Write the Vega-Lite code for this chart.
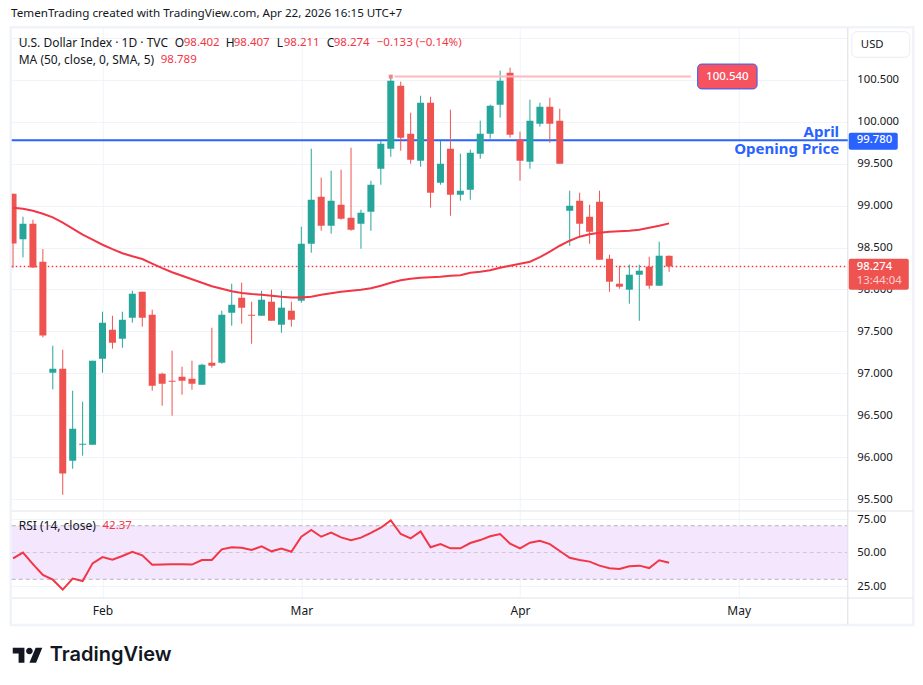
{"$schema":"https://vega.github.io/schema/vega-lite/v6.json","background":"white","padding":{"left":8.75,"top":8,"right":0,"bottom":0},"bounds":"flush","spacing":0,"title":{"text":"TemenTrading created with TradingView.com, Apr 22, 2026 16:15 UTC+7","anchor":"start","frame":"bounds","fontSize":11.65,"fontWeight":"normal","color":"#131722","font":"Noto Sans","offset":6,"dx":2},"config":{"font":"Noto Sans","view":{"stroke":null},"axis":{"grid":true,"gridColor":"#f0f3fa","gridWidth":1,"domain":false,"ticks":false,"title":null,"labelColor":"#131722","labelFontSize":11.3,"labelFont":"Noto Sans"}},
"datasets":{"bars":[
{"date":"2026-01-20","bar":0,"o":99.143,"h":99.143,"l":98.26,"c":98.55,"ma":98.976,"rsi":45.6},
{"date":"2026-01-21","bar":1,"o":98.598,"h":98.868,"l":98.383,"c":98.785,"ma":98.964,"rsi":49.9},
{"date":"2026-01-22","bar":2,"o":98.785,"h":98.833,"l":98.26,"c":98.263,"ma":98.94,"rsi":41.4},
{"date":"2026-01-23","bar":3,"o":98.331,"h":98.483,"l":97.428,"c":97.452,"ma":98.904,"rsi":33.2},
{"date":"2026-01-26","bar":4,"o":97.007,"h":97.329,"l":96.808,"c":97.055,"ma":98.86,"rsi":29.7},
{"date":"2026-01-27","bar":5,"o":97.055,"h":97.281,"l":95.551,"c":95.805,"ma":98.797,"rsi":22.3},
{"date":"2026-01-28","bar":6,"o":95.957,"h":96.792,"l":95.861,"c":96.339,"ma":98.725,"rsi":30.5},
{"date":"2026-01-29","bar":7,"o":96.148,"h":96.661,"l":96.017,"c":96.16,"ma":98.654,"rsi":28.7},
{"date":"2026-01-30","bar":8,"o":96.148,"h":97.15,"l":96.148,"c":97.15,"ma":98.594,"rsi":41.9},
{"date":"2026-02-02","bar":9,"o":97.174,"h":97.735,"l":97.007,"c":97.604,"ma":98.534,"rsi":46.6},
{"date":"2026-02-03","bar":10,"o":97.52,"h":97.687,"l":97.293,"c":97.365,"ma":98.481,"rsi":44.7},
{"date":"2026-02-04","bar":11,"o":97.413,"h":97.735,"l":97.305,"c":97.639,"ma":98.433,"rsi":47.4},
{"date":"2026-02-05","bar":12,"o":97.663,"h":97.985,"l":97.604,"c":97.95,"ma":98.397,"rsi":50.6},
{"date":"2026-02-06","bar":13,"o":97.973,"h":97.973,"l":97.556,"c":97.663,"ma":98.364,"rsi":47.9},
{"date":"2026-02-09","bar":14,"o":97.699,"h":97.759,"l":96.792,"c":96.852,"ma":98.308,"rsi":40.9},
{"date":"2026-02-10","bar":15,"o":96.995,"h":97.007,"l":96.613,"c":96.876,"ma":98.254,"rsi":41.0},
{"date":"2026-02-11","bar":16,"o":96.911,"h":97.27,"l":96.494,"c":96.899,"ma":98.206,"rsi":41.2},
{"date":"2026-02-12","bar":17,"o":96.959,"h":97.078,"l":96.744,"c":96.911,"ma":98.164,"rsi":41.2},
{"date":"2026-02-13","bar":18,"o":96.935,"h":97.15,"l":96.804,"c":96.876,"ma":98.123,"rsi":41.0},
{"date":"2026-02-16","bar":19,"o":96.864,"h":97.114,"l":96.864,"c":97.102,"ma":98.081,"rsi":44.4},
{"date":"2026-02-17","bar":20,"o":97.126,"h":97.544,"l":97.067,"c":97.09,"ma":98.039,"rsi":44.4},
{"date":"2026-02-18","bar":21,"o":97.126,"h":97.747,"l":97.114,"c":97.699,"ma":98.009,"rsi":52.4},
{"date":"2026-02-19","bar":22,"o":97.723,"h":98.069,"l":97.568,"c":97.818,"ma":97.98,"rsi":53.9},
{"date":"2026-02-20","bar":23,"o":97.902,"h":98.081,"l":97.592,"c":97.783,"ma":97.958,"rsi":53.6},
{"date":"2026-02-23","bar":24,"o":97.699,"h":97.854,"l":97.353,"c":97.687,"ma":97.946,"rsi":51.9},
{"date":"2026-02-24","bar":25,"o":97.687,"h":97.985,"l":97.687,"c":97.878,"ma":97.938,"rsi":54.6},
{"date":"2026-02-25","bar":26,"o":97.854,"h":97.997,"l":97.627,"c":97.627,"ma":97.926,"rsi":50.9},
{"date":"2026-02-26","bar":27,"o":97.58,"h":97.985,"l":97.484,"c":97.783,"ma":97.914,"rsi":52.9},
{"date":"2026-02-27","bar":28,"o":97.747,"h":97.854,"l":97.556,"c":97.639,"ma":97.905,"rsi":50.6},
{"date":"2026-03-02","bar":29,"o":97.866,"h":98.749,"l":97.842,"c":98.546,"ma":97.904,"rsi":61.8},
{"date":"2026-03-03","bar":30,"o":98.546,"h":99.68,"l":98.439,"c":99.071,"ma":97.914,"rsi":66.8},
{"date":"2026-03-04","bar":31,"o":99.107,"h":99.334,"l":98.701,"c":98.761,"ma":97.938,"rsi":61.8},
{"date":"2026-03-05","bar":32,"o":98.761,"h":99.417,"l":98.666,"c":99.06,"ma":97.956,"rsi":64.8},
{"date":"2026-03-06","bar":33,"o":99.012,"h":99.429,"l":98.833,"c":98.845,"ma":97.973,"rsi":61.3},
{"date":"2026-03-09","bar":34,"o":98.857,"h":99.692,"l":98.701,"c":98.713,"ma":97.985,"rsi":59.1},
{"date":"2026-03-10","bar":35,"o":98.785,"h":98.952,"l":98.487,"c":98.916,"ma":97.997,"rsi":61.1},
{"date":"2026-03-11","bar":36,"o":98.928,"h":99.298,"l":98.701,"c":99.25,"ma":98.015,"rsi":64.6},
{"date":"2026-03-12","bar":37,"o":99.441,"h":99.775,"l":99.25,"c":99.74,"ma":98.045,"rsi":68.5},
{"date":"2026-03-13","bar":38,"o":99.68,"h":100.551,"l":99.584,"c":100.492,"ma":98.081,"rsi":74.0},
{"date":"2026-03-16","bar":39,"o":100.432,"h":100.48,"l":99.656,"c":99.811,"ma":98.111,"rsi":63.8},
{"date":"2026-03-17","bar":40,"o":99.859,"h":100.11,"l":99.501,"c":99.549,"ma":98.129,"rsi":60.6},
{"date":"2026-03-18","bar":41,"o":99.537,"h":100.312,"l":99.465,"c":100.229,"ma":98.141,"rsi":65.8},
{"date":"2026-03-19","bar":42,"o":100.229,"h":100.3,"l":98.976,"c":99.155,"ma":98.147,"rsi":53.9},
{"date":"2026-03-20","bar":43,"o":99.274,"h":99.775,"l":99.25,"c":99.501,"ma":98.153,"rsi":56.3},
{"date":"2026-03-23","bar":44,"o":99.68,"h":100.145,"l":98.88,"c":99.131,"ma":98.164,"rsi":53.1},
{"date":"2026-03-24","bar":45,"o":99.131,"h":99.62,"l":99.06,"c":99.179,"ma":98.17,"rsi":53.1},
{"date":"2026-03-25","bar":46,"o":99.191,"h":99.668,"l":99.071,"c":99.632,"ma":98.2,"rsi":57.1},
{"date":"2026-03-26","bar":47,"o":99.62,"h":100.014,"l":99.56,"c":99.859,"ma":98.212,"rsi":59.3},
{"date":"2026-03-27","bar":48,"o":99.859,"h":100.205,"l":99.799,"c":100.193,"ma":98.23,"rsi":62.1},
{"date":"2026-03-30","bar":49,"o":100.205,"h":100.611,"l":100.05,"c":100.492,"ma":98.26,"rsi":63.8},
{"date":"2026-03-31","bar":50,"o":100.587,"h":100.647,"l":99.811,"c":99.847,"ma":98.284,"rsi":56.6},
{"date":"2026-04-01","bar":51,"o":99.787,"h":99.883,"l":99.298,"c":99.537,"ma":98.308,"rsi":53.1},
{"date":"2026-04-02","bar":52,"o":99.525,"h":100.265,"l":99.441,"c":100.014,"ma":98.331,"rsi":57.3},
{"date":"2026-04-03","bar":53,"o":99.978,"h":100.229,"l":99.943,"c":100.181,"ma":98.385,"rsi":58.8},
{"date":"2026-04-06","bar":54,"o":100.181,"h":100.288,"l":99.751,"c":99.978,"ma":98.451,"rsi":56.3},
{"date":"2026-04-07","bar":55,"o":100.014,"h":100.157,"l":99.501,"c":99.501,"ma":98.522,"rsi":51.1},
{"date":"2026-04-08","bar":56,"o":98.94,"h":99.179,"l":98.522,"c":99.0,"ma":98.582,"rsi":46.1},
{"date":"2026-04-09","bar":57,"o":99.06,"h":99.155,"l":98.63,"c":98.785,"ma":98.63,"rsi":44.4},
{"date":"2026-04-10","bar":58,"o":98.868,"h":99.012,"l":98.546,"c":98.689,"ma":98.66,"rsi":43.2},
{"date":"2026-04-13","bar":59,"o":99.047,"h":99.179,"l":98.355,"c":98.355,"ma":98.678,"rsi":40.2},
{"date":"2026-04-14","bar":60,"o":98.367,"h":98.415,"l":97.973,"c":98.093,"ma":98.689,"rsi":38.2},
{"date":"2026-04-15","bar":61,"o":98.069,"h":98.284,"l":98.009,"c":98.033,"ma":98.695,"rsi":37.7},
{"date":"2026-04-16","bar":62,"o":97.997,"h":98.296,"l":97.83,"c":98.176,"ma":98.701,"rsi":39.7},
{"date":"2026-04-17","bar":63,"o":98.176,"h":98.296,"l":97.627,"c":98.224,"ma":98.713,"rsi":40.2},
{"date":"2026-04-20","bar":64,"o":98.272,"h":98.391,"l":98.009,"c":98.045,"ma":98.737,"rsi":38.4},
{"date":"2026-04-21","bar":65,"o":98.045,"h":98.57,"l":98.045,"c":98.403,"ma":98.761,"rsi":44.2},
{"date":"2026-04-22","bar":66,"o":98.402,"h":98.407,"l":98.211,"c":98.274,"ma":98.789,"rsi":42.37}
]},
"vconcat":[
{"width":836,"height":483,"encoding":{
"x":{"field":"bar","type":"quantitative","scale":{"domain":[-0.13,83.97],"nice":false,"zero":false,"padding":0},"axis":{"values":[9,29,51,73],"labels":false}},
"y":{"type":"quantitative","scale":{"domain":[95.357,101.12],"nice":false,"zero":false,"padding":0},"axis":{"orient":"right","values":[95.5,96,96.5,97,97.5,98,98.5,99,99.5,100,100.5,101],"labelExpr":"datum.value==101?'':format(datum.value,'.3f')","labelPadding":9}}},
"layer":[
{"data":{"values":[{"bar":-0.23,"bar2":90.56,"p":93.996,"p2":101.13}]},"mark":{"type":"rect","fillOpacity":0,"stroke":"#f0f3fa","strokeWidth":2.5,"clip":false},"encoding":{"x2":{"field":"bar2"},"y":{"field":"p"},"y2":{"field":"p2"}}},
{"data":{"values":[{"bar":83.97,"p":95.357,"p2":101.12}]},"mark":{"type":"rule","color":"#e0e3eb","strokeWidth":1.2,"clip":false},"encoding":{"y":{"field":"p"},"y2":{"field":"p2"}}},
{"data":{"values":[{"bar":-0.13,"bar2":90.56,"p":95.357}]},"mark":{"type":"rule","color":"#e0e3eb","strokeWidth":1.2,"clip":false},"encoding":{"x2":{"field":"bar2"},"y":{"field":"p"}}},
{"data":{"values":[{"bar":-0.13,"bar2":83.97,"p":99.78}]},"mark":{"type":"rule","color":"#2962ff","strokeWidth":2},"encoding":{"x2":{"field":"bar2"},"y":{"field":"p"}}},
{"data":{"values":[{"bar":-0.13,"bar2":83.97,"p":98.274}]},"mark":{"type":"rule","color":"#f23645","strokeWidth":1.3,"strokeDash":[1.5,2.5]},"encoding":{"x2":{"field":"bar2"},"y":{"field":"p"}}},
{"data":{"name":"bars"},"mark":{"type":"rule","strokeWidth":1,"clip":true},"encoding":{"y":{"field":"l"},"y2":{"field":"h"},"color":{"condition":{"test":"datum.c>=datum.o","value":"#26a69a"},"value":"#ef5350"}}},
{"data":{"name":"bars"},"mark":{"type":"bar","size":7,"clip":true},"encoding":{"y":{"field":"o"},"y2":{"field":"c"},"color":{"condition":{"test":"datum.c>=datum.o","value":"#26a69a"},"value":"#ef5350"}}},
{"data":{"name":"bars"},"mark":{"type":"line","color":"#f23645","strokeWidth":2,"clip":true},"encoding":{"y":{"field":"ma"}}},
{"data":{"values":[{"bar":38.37,"bar2":68.18,"p":100.54}]},"mark":{"type":"rule","color":"#ffb8bd","strokeWidth":2},"encoding":{"x2":{"field":"bar2"},"y":{"field":"p"}}},
{"data":{"values":[{"bar":38,"p":100.54}]},"mark":{"type":"point","shape":"square","filled":true,"opacity":1,"color":"#f7828c","size":16},"encoding":{"y":{"field":"p"}}},
{"data":{"values":[{"bar":68.87,"bar2":74.85,"p":100.393,"p2":100.69}]},"mark":{"type":"rect","fill":"#f7525f","stroke":"#2962ff","strokeWidth":1,"cornerRadius":4},"encoding":{"x2":{"field":"bar2"},"y":{"field":"p"},"y2":{"field":"p2"}}},
{"data":{"values":[{"label":"100.540","bar":71.86,"p":100.54}]},"mark":{"type":"text","color":"white","fontSize":11.5,"fontWeight":500},"encoding":{"y":{"field":"p"},"text":{"field":"label"}}},
{"data":{"values":[{"label":"April","bar":83.1,"p":99.88},{"label":"Opening Price","bar":83.1,"p":99.672}]},"mark":{"type":"text","color":"#2962ff","fontSize":15,"fontWeight":"bold","align":"right"},"encoding":{"y":{"field":"p"},"text":{"field":"label"}}},
{"data":{"values":[{"bar":84.38,"bar2":90.21,"p":100.77,"p2":101.076}]},"mark":{"type":"rect","fill":"white","stroke":"#e9ecf2","strokeWidth":1,"cornerRadius":5,"clip":false},"encoding":{"x2":{"field":"bar2"},"y":{"field":"p"},"y2":{"field":"p2"}}},
{"data":{"values":[{"label":"USD","bar":85.29,"p":100.915}]},"mark":{"type":"text","color":"#131722","fontSize":11.3,"align":"left","clip":false},"encoding":{"y":{"field":"p"},"text":{"field":"label"}}},
{"data":{"values":[{"bar":84.07,"bar2":89,"p":99.668,"p2":99.871}]},"mark":{"type":"rect","fill":"#2962ff","cornerRadius":2,"clip":false},"encoding":{"x2":{"field":"bar2"},"y":{"field":"p"},"y2":{"field":"p2"}}},
{"data":{"values":[{"label":"99.780","bar":84.88,"p":99.78}]},"mark":{"type":"text","color":"white","fontSize":11.3,"fontWeight":500,"align":"left","clip":false},"encoding":{"y":{"field":"p"},"text":{"field":"label"}}},
{"data":{"values":[{"bar":84.07,"bar2":90.11,"p":97.998,"p2":98.368}]},"mark":{"type":"rect","fill":"#ef5350","cornerRadius":2,"clip":false},"encoding":{"x2":{"field":"bar2"},"y":{"field":"p"},"y2":{"field":"p2"}}},
{"data":{"values":[{"label":"98.274","bar":84.88,"p":98.266}]},"mark":{"type":"text","color":"white","fontSize":11.3,"fontWeight":500,"align":"left","clip":false},"encoding":{"y":{"field":"p"},"text":{"field":"label"}}},
{"data":{"values":[{"label":"13:44:04","bar":84.88,"p":98.097}]},"mark":{"type":"text","color":"#fbd0d0","fontSize":11.3,"align":"left","clip":false},"encoding":{"y":{"field":"p"},"text":{"field":"label"}}},
{"data":{"values":[{"label":"U.S. Dollar Index · 1D · TVC","bar":0.57,"p":100.945},{"label":"O","bar":16.27,"p":100.945},{"label":"H","bar":21.4,"p":100.945},{"label":"L","bar":26.53,"p":100.945},{"label":"C","bar":31.56,"p":100.945},{"label":"MA (50, close, 0, SMA, 5)","bar":0.57,"p":100.742}]},"mark":{"type":"text","color":"#131722","fontSize":12,"align":"left"},"encoding":{"y":{"field":"p"},"text":{"field":"label"}}},
{"data":{"values":[{"label":"98.402","bar":17.17,"p":100.945},{"label":"98.407","bar":22.2,"p":100.945},{"label":"98.211","bar":27.23,"p":100.945},{"label":"98.274","bar":32.26,"p":100.945},{"label":"−0.133 (−0.14%)","bar":36.59,"p":100.945},{"label":"98.789","bar":14.86,"p":100.742}]},"mark":{"type":"text","color":"#f23645","fontSize":11.5,"align":"left"},"encoding":{"y":{"field":"p"},"text":{"field":"label"}}}
]},
{"width":836,"height":87,"encoding":{
"x":{"field":"bar","type":"quantitative","scale":{"domain":[-0.13,83.97],"nice":false,"zero":false,"padding":0},"axis":{"values":[9,29,51,73],"labelExpr":"datum.value==9?'Feb':datum.value==29?'Mar':datum.value==51?'Apr':'May'","labelFontSize":12,"labelPadding":7}},
"y":{"type":"quantitative","scale":{"domain":[16.04,81],"nice":false,"zero":false},"axis":{"orient":"right","values":[25,50,75],"format":".2f","labelPadding":9}}},
"layer":[
{"data":{"values":[{"bar":-0.13,"bar2":83.97,"lo":30,"hi":70}]},"mark":{"type":"rect","fill":"#f4e6fd","opacity":1},"encoding":{"x2":{"field":"bar2"},"y":{"field":"lo"},"y2":{"field":"hi"}}},
{"data":{"values":[{"bar":-0.13,"bar2":83.97,"level":70},{"bar":-0.13,"bar2":83.97,"level":30}]},"mark":{"type":"rule","color":"#b2b5be","strokeWidth":1,"strokeDash":[4,3]},"encoding":{"x2":{"field":"bar2"},"y":{"field":"level"}}},
{"data":{"values":[{"bar":-0.13,"bar2":83.97,"level":50}]},"mark":{"type":"rule","color":"#cfc8da","strokeWidth":1,"strokeDash":[4,3]},"encoding":{"x2":{"field":"bar2"},"y":{"field":"level"}}},
{"data":{"values":[{"bar":83.97,"lo":-3.9,"hi":81}]},"mark":{"type":"rule","color":"#e0e3eb","strokeWidth":1.2,"clip":false},"encoding":{"y":{"field":"lo"},"y2":{"field":"hi"}}},
{"data":{"values":[{"bar":-0.13,"bar2":90.56,"level":16.04}]},"mark":{"type":"rule","color":"#e0e3eb","strokeWidth":1.2,"clip":false},"encoding":{"x2":{"field":"bar2"},"y":{"field":"level"}}},
{"data":{"name":"bars"},"mark":{"type":"line","color":"#f23645","strokeWidth":2},"encoding":{"y":{"field":"rsi"}}},
{"data":{"values":[{"label":"RSI (14, close)","bar":0.57,"rsi":69.5}]},"mark":{"type":"text","color":"#131722","fontSize":12,"align":"left"},"encoding":{"y":{"field":"rsi"},"text":{"field":"label"}}},
{"data":{"values":[{"label":"42.37","bar":9.0,"rsi":69.5}]},"mark":{"type":"text","color":"#f23645","fontSize":11.5,"align":"left"},"encoding":{"y":{"field":"rsi"},"text":{"field":"label"}}},
{"data":{"values":[{"bar":1.48,"rsi":-26.64}]},"mark":{"type":"point","filled":true,"opacity":1,"color":"#131722","size":900,"clip":false,"shape":"M-0.222 0.5H-0.611V-0.111H-1V-0.5H-0.222ZM0.556 0.5H0.111L0.528 -0.5H0.972ZM-0.111 -0.278a0.222 0.222 0 1 0 0.444 0a0.222 0.222 0 1 0 -0.444 0Z"},"encoding":{"y":{"field":"rsi"}}},
{"data":{"values":[{"label":"TradingView","bar":3.69,"rsi":-26.64}]},"mark":{"type":"text","color":"#131722","font":"Inter","fontSize":20,"fontWeight":600,"align":"left","clip":false},"encoding":{"y":{"field":"rsi"},"text":{"field":"label"}}}
]}
]}
